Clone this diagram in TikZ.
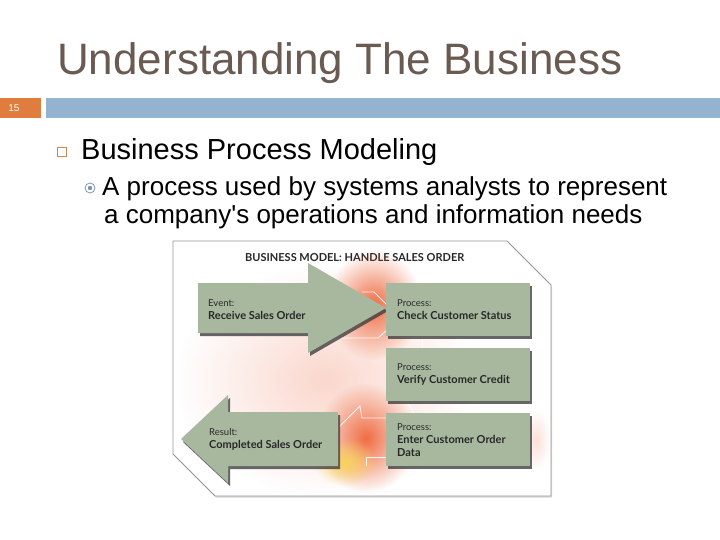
\documentclass[tikz,border=0pt]{standalone}
\usepackage{fontspec}
\setmainfont{Liberation Sans}
\newfontfamily\diag{Lato}
\usetikzlibrary{shadows,fadings}
\tikzfading[name=glowfade, inner color=transparent!0, outer color=transparent!100]
\definecolor{titlec}{RGB}{105,90,82}
\definecolor{orangebar}{RGB}{224,125,62}
\definecolor{bluebar}{RGB}{148,179,209}
\definecolor{sage}{RGB}{168,184,158}
\definecolor{glow}{RGB}{238,95,50}
\definecolor{glowy}{RGB}{248,210,90}
\definecolor{framec}{RGB}{150,150,150}
\definecolor{dtext}{RGB}{40,40,40}
\definecolor{bullc}{RGB}{205,135,85}
\definecolor{bulltwo}{RGB}{120,150,175}
\begin{document}
\begin{tikzpicture}[x=1pt,y=-1pt,
 sh/.style={drop shadow={shadow xshift=2pt,shadow yshift=-3pt,fill=black!75,opacity=.8}},
 procbox/.style={fill=sage,sh,minimum width=144pt,minimum height=53pt,anchor=north west,inner sep=0pt},
 small/.style={font=\diag\fontsize{9.5}{11}\selectfont,text=dtext,anchor=base west,inner sep=0pt},
 smallb/.style={font=\diag\bfseries\fontsize{11}{12}\selectfont,text=dtext,anchor=base west,inner sep=0pt},
 connl/.style={white,line width=0.8pt,opacity=.85},
 body/.style={anchor=base west,inner sep=0pt,font=\fontsize{26}{30}\selectfont}]
\useasboundingbox (0,0) rectangle (720,540);
% slide header
\node[anchor=base west,inner sep=0pt,text=titlec,font=\fontsize{44}{48}\selectfont] (title) at (57,75) {Understanding The Business};
\fill[orangebar] (0,98) rectangle (41,118);
\node[text=white,inner sep=0pt,font=\fontsize{10}{11}\selectfont] (num) at (14,108) {15};
\fill[bluebar] (46,98) rectangle (720,118);
% bullets
\node[draw=bullc,line width=1pt,minimum size=9.5pt,inner sep=0pt] (sq) at (62,152) {};
\node[anchor=base west,inner sep=0pt,font=\fontsize{29}{33}\selectfont] (h1) at (81,160) {Business Process Modeling};
\node[circle,draw=bulltwo,line width=0.8pt,minimum size=10pt,inner sep=0pt] (cb) at (90,188) {};
\fill[bulltwo] (cb) circle (2.2pt);
\node[body] (l1) at (102,196) {A process used by systems analysts to represent};
\node[body] (l2) at (104,224) {a company\textquotesingle s operations and information needs};
% figure frame
\draw[framec,fill=white,line width=0.9pt,drop shadow={shadow xshift=1pt,shadow yshift=-1.5pt,fill=black!30,opacity=.5}]
 (173,241) -- (507,241) -- (551,285) -- (551,496) -- (215,496) -- (173,454) -- cycle;
\node[font=\diag\bfseries\fontsize{11}{12}\selectfont,text=dtext,anchor=base west,inner sep=0pt] (dt) at (245,261) {BUSINESS MODEL: HANDLE SALES ORDER};
% glow
\fill[glow!45,path fading=glowfade,opacity=.55] (325,380) ellipse [x radius=150,y radius=115];
\fill[glow,path fading=glowfade,opacity=.9] (374,305) ellipse [x radius=48,y radius=55];
\fill[glow,path fading=glowfade,opacity=.9] (366,438) ellipse [x radius=50,y radius=55];
\fill[glow,path fading=glowfade,opacity=.2] (536,440) ellipse [x radius=14,y radius=30];
\fill[glowy,path fading=glowfade] (345,462) ellipse [x radius=32,y radius=24];
% faint connectors
\draw[connl] (362,292) -- (374,292) -- (387,305);
\draw[connl] (335,338) -- (378,338) -- (387,330);
\draw[connl] (422,335) -- (422,348) (457,335) -- (457,348);
\draw[connl] (406,400) -- (414,413) (472,400) -- (464,413);
\draw[connl] (386,418) -- (362,418) -- (360,406) -- (338,428);
\draw[connl] (386,457) -- (366,457) -- (366,466);
% event arrow
\fill[sage,sh] (198,283) -- (308,283) -- (308,263) -- (386,308) -- (308,353) -- (308,333) -- (198,333) -- cycle;
\node[small] (ev1) at (208,306) {Event:};
\node[smallb] (ev2) at (208,319) {Receive Sales Order};
% result arrow
\fill[sage,sh] (338,412) -- (228,412) -- (228,395) -- (181,439) -- (228,483) -- (228,466) -- (338,466) -- cycle;
\node[small] (re1) at (209,435) {Result:};
\node[smallb] (re2) at (209,448) {Completed Sales Order};
% process boxes
\node[procbox] (p1) at (386,283) {};
\node[procbox] (p2) at (386,348) {};
\node[procbox] (p3) at (386,413) {};
\node[small] (p1a) at (397,306) {Process:};
\node[smallb] (p1b) at (397,319) {Check Customer Status};
\node[small] (p2a) at (397,370) {Process:};
\node[smallb] (p2b) at (397,383) {Verify Customer Credit};
\node[small] (p3a) at (397,430) {Process:};
\node[smallb] (p3b) at (397,443) {Enter Customer Order};
\node[smallb] (p3c) at (397,456) {Data};
\end{tikzpicture}
\end{document}
